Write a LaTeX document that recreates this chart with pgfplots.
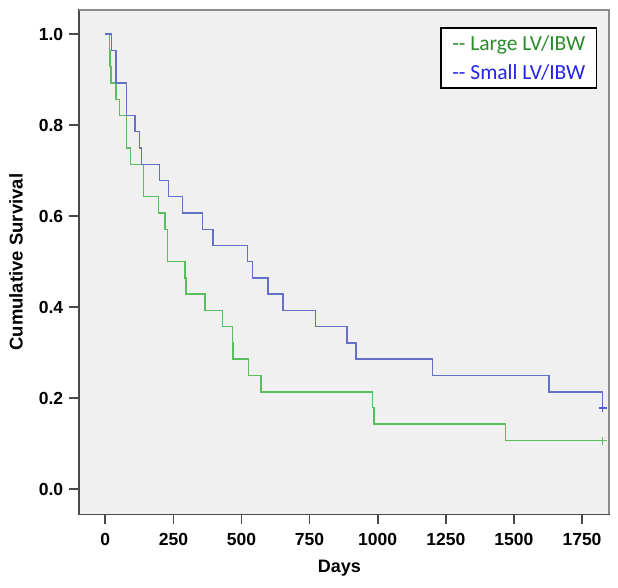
\documentclass[border=0pt]{standalone}
\usepackage{fontspec}
\setmainfont{Liberation Sans}
\newfontfamily\legfont{Carlito}
\usepackage{pgfplots}
\pgfplotsset{compat=1.18}
\definecolor{bgc}{HTML}{F0F0F0}
\definecolor{gline}{HTML}{5ABE5F}
\definecolor{bline}{HTML}{6670C4}
\definecolor{gtext}{HTML}{2A8C2A}
\definecolor{btext}{HTML}{2424E6}
\definecolor{frame}{HTML}{4A4A4A}
\definecolor{frame2}{HTML}{8C8C8C}
\begin{document}
\begin{tikzpicture}
\begin{axis}[
  scale only axis, width=529.7pt, height=504.3pt,
  xmin=-96.5, xmax=1848, ymin=-0.055, ymax=1.053,
  axis background/.style={fill=bgc},
  axis line style={color=frame, line width=1.6pt},
  tick pos=left, tick align=outside, major tick length=10pt,
  every tick/.style={frame, line width=1.6pt},
  xtick={0,250,500,750,1000,1250,1500,1750},
  ytick={0,0.2,0.4,0.6,0.8,1},
  yticklabels={0.0,0.2,0.4,0.6,0.8,1.0},
  /pgf/number format/assume math mode=true,
  /pgf/number format/1000 sep={},
  ticklabel style={font=\bfseries\fontsize{17.5}{20}\selectfont},
  xticklabel style={anchor=center, inner sep=0pt, yshift=-15pt},
  yticklabel style={anchor=east, inner sep=0pt, xshift=-5.7pt},
  xlabel={Days}, ylabel={Cumulative Survival},
  every axis x label/.style={at={(axis description cs:0.4914,-0.1071)}, anchor=center, font=\bfseries\fontsize{18}{21}\selectfont},
  every axis y label/.style={at={(axis description cs:-0.1189,0.5)}, anchor=center, rotate=90, font=\bfseries\fontsize{18.5}{21}\selectfont},
  clip=false,
]
% Large LV/IBW (green)
\addplot[const plot, gline, line width=1.4pt] coordinates {
 (0,1.0) (14.7,0.964) (17.3,0.929) (21,0.893) (39.3,0.857) (51.4,0.821)
 (78.6,0.75) (93.2,0.714) (139.5,0.643) (194.6,0.607) (219,0.571)
 (227.6,0.50) (292.6,0.464) (296.3,0.429) (366,0.393) (431,0.357)
 (467,0.321) (469,0.286) (525,0.25) (571.6,0.214) (981.6,0.179)
 (986.4,0.143) (1470,0.107) (1826,0.107)
};
% Small LV/IBW (blue)
\addplot[const plot, bline, line width=1.4pt] coordinates {
 (0,1.0) (23.5,0.964) (39.3,0.893) (78.6,0.821) (109,0.786) (124.8,0.75)
 (133.6,0.714) (198,0.679) (231,0.643) (282.7,0.607) (356,0.571)
 (396,0.536) (522.7,0.50) (541,0.464) (598,0.429) (653,0.393)
 (772,0.357) (888,0.321) (920,0.286) (1202,0.25) (1629,0.214) (1826,0.179)
};
\addplot[only marks, mark=+, mark size=4pt, line width=1.5pt, gline] coordinates {(1826,0.107)};
\addplot[only marks, mark=+, mark size=4pt, line width=1.5pt, bline!80!blue] coordinates {(1826,0.179)};
\draw[frame2, line width=1.6pt] (rel axis cs:0,1) -- (rel axis cs:1,1) -- (rel axis cs:1,0);
\node[anchor=north east, draw=black, line width=1.3pt, fill=white, align=left,
      minimum width=155.6pt, minimum height=60pt, inner xsep=8pt, inner ysep=0pt,
      font=\legfont\fontsize{21.5}{29.7}\selectfont]
  at (rel axis cs:0.9785,0.9657)
  {\textcolor{gtext}{-- Large LV/IBW}\\\textcolor{btext}{-- Small LV/IBW}};
\end{axis}
\pgfresetboundingbox
\path ([shift={(-79pt,-72.7pt)}]current axis.south west) rectangle ([shift={(9.3pt,10pt)}]current axis.north east);
\end{tikzpicture}
\end{document}
